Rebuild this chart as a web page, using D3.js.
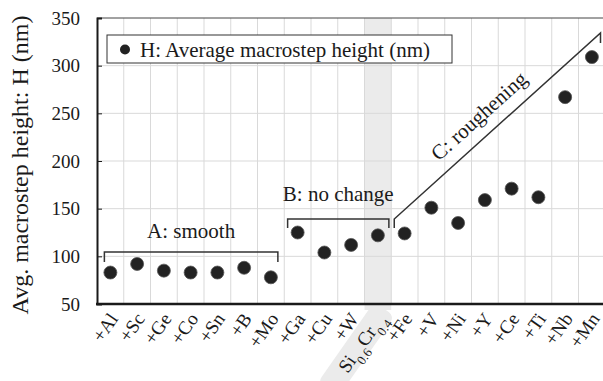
<!DOCTYPE html>
<html>
<head>
<meta charset="utf-8">
<script src="https://cdn.jsdelivr.net/npm/d3@7"></script>
<style>
  body { margin: 0; background: #fff; }
  text { font-family: "Liberation Serif", "Times New Roman", serif; fill: #1a1a1a; }
</style>
</head>
<body>
<div id="chart"></div>
<script>
// data
const categories = ["+Al", "+Sc", "+Ge", "+Co", "+Sn", "+B", "+Mo", "+Ga", "+Cu", "+W",
    "Si0.6Cr0.4", "+Fe", "+V", "+Ni", "+Y", "+Ce", "+Ti", "+Nb", "+Mn"];
const heights = [83, 92, 85, 83, 83, 88, 78, 125, 104, 112, 122, 124, 151, 135, 159, 171, 162, 267, 309];
const yTicks = [50, 100, 150, 200, 250, 300, 350];
const baseCategory = "Si0.6Cr0.4";

const W = 603, H = 381;
const margin = {top: 18, left: 97, bottom: 304};

const svg = d3.select("#chart").append("svg")
    .attr("width", W)
    .attr("height", H);

const x = d3.scaleBand()
    .domain(categories)
    .range([margin.left, margin.left + 19 * 26.75])
    .paddingInner(0).paddingOuter(0);

const y = d3.scaleLinear()
    .domain([50, 350])
    .range([margin.bottom, margin.top]);

const cx = d => x(d) + x.bandwidth() / 2;

// shaded reference column
svg.append("rect")
    .attr("x", x(baseCategory))
    .attr("y", y(350))
    .attr("width", x.bandwidth())
    .attr("height", y(50) - y(350) + 6)
    .attr("fill", "#ebebeb");

// grid lines
svg.append("g").selectAll("line")
    .data(yTicks.slice(1, -1))
    .enter().append("line")
    .attr("x1", margin.left).attr("x2", W)
    .attr("y1", d => y(d)).attr("y2", d => y(d))
    .attr("stroke", "#d9d9d9").attr("stroke-width", 1);

svg.append("g").selectAll("line")
    .data(categories.slice(1))
    .enter().append("line")
    .attr("x1", d => x(d)).attr("x2", d => x(d))
    .attr("y1", y(350)).attr("y2", y(50))
    .attr("stroke", "#d9d9d9").attr("stroke-width", 1);

// frame top
svg.append("line")
    .attr("x1", margin.left).attr("x2", W)
    .attr("y1", y(350)).attr("y2", y(350))
    .attr("stroke", "#444").attr("stroke-width", 1);

// y axis
const yAxis = d3.axisLeft(y).tickValues(yTicks).tickSize(-5).tickPadding(17).tickFormat(d3.format("d"));
const gy = svg.append("g")
    .attr("transform", `translate(${margin.left},0)`)
    .call(yAxis);
gy.select(".domain").attr("stroke", "#1a1a1a").attr("stroke-width", 2);
gy.selectAll(".tick line").attr("stroke", "#1a1a1a");
gy.selectAll(".tick text")
    .style("font-family", "Liberation Serif")
    .style("font-size", "19px")
    .attr("fill", "#1a1a1a");

// x labels
const labelAngle = -55;
const xl = svg.append("g").selectAll("g")
    .data(categories)
    .enter().append("g")
    .attr("transform", d => `translate(${cx(d) + 3},${y(50) + 11}) rotate(${labelAngle})`);

xl.filter(d => d === baseCategory).append("rect")
    .attr("x", -92).attr("y", -13)
    .attr("width", 99).attr("height", 25)
    .attr("rx", 7)
    .attr("fill", "#ebebeb");

xl.filter(d => d !== baseCategory).append("text")
    .attr("text-anchor", "end")
    .attr("dy", "0.35em")
    .style("font-size", "19px")
    .text(d => d);

const siText = xl.filter(d => d === baseCategory).append("text")
    .attr("text-anchor", "end")
    .attr("dy", "0.35em")
    .style("font-size", "19px");
siText.append("tspan").text("Si");
siText.append("tspan").attr("baseline-shift", "sub").style("font-size", "13px").text("0.6");
siText.append("tspan").text("Cr");
siText.append("tspan").attr("baseline-shift", "sub").style("font-size", "13px").text("0.4");

// x axis line
svg.append("line")
    .attr("x1", margin.left - 1).attr("x2", W)
    .attr("y1", y(50)).attr("y2", y(50))
    .attr("stroke", "#1a1a1a").attr("stroke-width", 2.5);

// y title
svg.append("text")
    .attr("transform", `translate(20,${(y(50) + 18) / 2 + 4}) rotate(-90)`)
    .attr("text-anchor", "middle")
    .attr("dominant-baseline", "central")
    .style("font-size", "24px")
    .text("Avg. macrostep height: H (nm)");

// brackets
function path(pts) {
    svg.append("path")
        .attr("d", d3.line()(pts))
        .attr("fill", "none")
        .attr("stroke", "#333")
        .attr("stroke-width", 1.5);
}
const aL = cx("+Al") - 6, aR = cx("+Mo") + 7, aTop = 252;
path([[aL, aTop + 10], [aL, aTop], [aR, aTop], [aR, aTop + 10]]);
svg.append("text").attr("x", (aL + aR) / 2).attr("y", 238)
    .attr("text-anchor", "middle").style("font-size", "21px").text("A: smooth");

const bL = cx("+Ga") - 10, bR = cx(baseCategory) + 11, bTop = 219;
path([[bL, bTop + 9], [bL, bTop], [bR, bTop], [bR, bTop + 9]]);
svg.append("text").attr("x", (bL + bR) / 2).attr("y", 201)
    .attr("text-anchor", "middle").style("font-size", "21px").text("B: no change");

const cL = x("+Fe") + 3, cR = 600.5;
path([[cL, 228], [cL, 219], [cR, 33], [cR, 43]]);
const cAng = Math.atan2(219 - 33, cR - cL) * 180 / Math.PI;
svg.append("text")
    .attr("transform", `translate(479,116) rotate(${-cAng})`)
    .attr("text-anchor", "middle")
    .attr("dominant-baseline", "central")
    .style("font-size", "21px")
    .text("C: roughening");

// points
svg.append("g").selectAll("circle")
    .data(categories.map((c, i) => ({c, v: heights[i]})))
    .enter().append("circle")
    .attr("cx", d => cx(d.c))
    .attr("cy", d => y(d.v))
    .attr("r", 6.5)
    .attr("fill", "#222")
    .attr("stroke", "#555")
    .attr("stroke-width", 0.8);

// legend
const lg = svg.append("g");
lg.append("rect")
    .attr("x", 107).attr("y", 35)
    .attr("width", 345).attr("height", 28)
    .attr("fill", "#fff")
    .attr("stroke", "#333").attr("stroke-width", 1);
lg.append("circle").attr("cx", 125).attr("cy", 49.5).attr("r", 5).attr("fill", "#222");
lg.append("text").attr("x", 140).attr("y", 49.5)
    .attr("dominant-baseline", "central")
    .style("font-size", "21px")
    .text("H: Average macrostep height (nm)");
</script>
</body>
</html>
